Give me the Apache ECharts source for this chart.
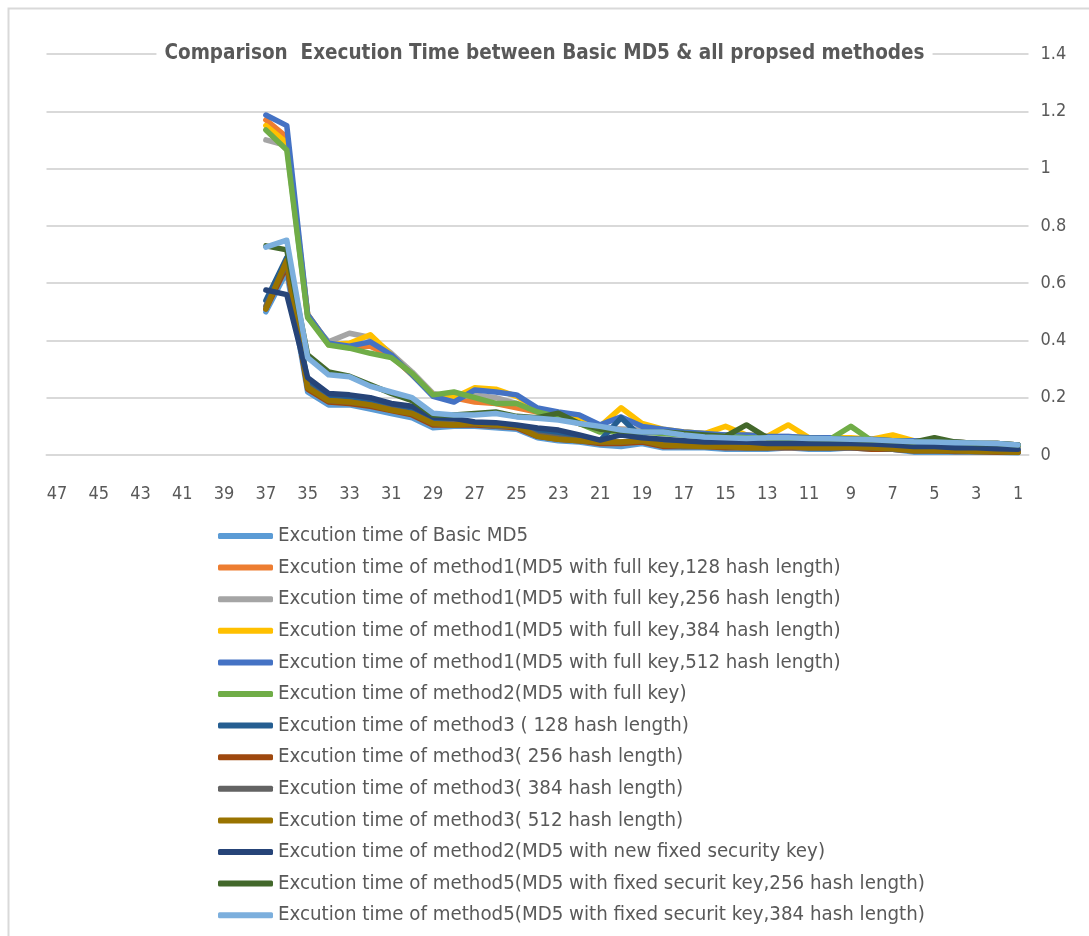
<!DOCTYPE html>
<html>
<head>
<meta charset="utf-8">
<script src="https://cdn.jsdelivr.net/npm/echarts@6/dist/echarts.min.js"></script>
<style>
html,body{margin:0;padding:0;background:#fff;}
#chart{width:1089px;height:936px;}
</style>
</head>
<body>
<div id="chart"></div>
<script>
// categories 1..47 (axis drawn in reverse order, 47 on the left)
const categories = ["1","2","3","4","5","6","7","8","9","10","11","12","13","14","15","16","17","18","19","20","21","22","23","24","25","26","27","28","29","30","31","32","33","34","35","36","37","38","39","40","41","42","43","44","45","46","47"];

// values for categories 1..37
const basicMD5 = [0.008,0.01,0.01,0.01,0.01,0.01,0.02,0.02,0.025,0.02,0.02,0.025,0.02,0.02,0.02,0.025,0.025,0.025,0.04,0.03,0.035,0.045,0.05,0.06,0.09,0.095,0.1,0.1,0.095,0.13,0.145,0.16,0.175,0.175,0.22,0.64,0.50];
const m1_128 = [0.03,0.035,0.04,0.04,0.045,0.045,0.05,0.05,0.055,0.055,0.06,0.06,0.06,0.065,0.07,0.07,0.075,0.08,0.085,0.09,0.09,0.11,0.13,0.15,0.165,0.18,0.185,0.2,0.21,0.28,0.345,0.38,0.38,0.39,0.49,1.11,1.17];
const m1_256 = [0.035,0.04,0.04,0.045,0.045,0.05,0.05,0.055,0.055,0.06,0.06,0.065,0.065,0.07,0.07,0.075,0.08,0.085,0.09,0.09,0.1,0.12,0.14,0.155,0.18,0.2,0.21,0.2,0.215,0.29,0.355,0.41,0.425,0.395,0.48,1.08,1.10];
const m1_384 = [0.035,0.04,0.04,0.045,0.045,0.05,0.07,0.055,0.06,0.06,0.06,0.105,0.065,0.07,0.1,0.075,0.08,0.09,0.11,0.165,0.1,0.13,0.145,0.16,0.205,0.23,0.235,0.2,0.21,0.28,0.35,0.42,0.39,0.385,0.49,1.09,1.15];
const m1_512 = [0.035,0.04,0.04,0.045,0.045,0.05,0.05,0.055,0.055,0.06,0.06,0.065,0.065,0.07,0.07,0.075,0.08,0.09,0.1,0.133,0.105,0.14,0.15,0.164,0.21,0.22,0.227,0.185,0.205,0.28,0.35,0.395,0.38,0.39,0.49,1.15,1.187];
const m2_full = [0.03,0.035,0.04,0.04,0.045,0.045,0.05,0.05,0.1,0.055,0.055,0.055,0.06,0.06,0.065,0.065,0.07,0.075,0.08,0.085,0.08,0.11,0.133,0.15,0.18,0.18,0.2,0.22,0.21,0.285,0.34,0.355,0.373,0.384,0.48,1.065,1.135];
const m3_128 = [0.015,0.02,0.02,0.02,0.025,0.025,0.03,0.03,0.035,0.035,0.035,0.035,0.035,0.04,0.04,0.04,0.045,0.05,0.06,0.13,0.05,0.065,0.075,0.085,0.1,0.105,0.11,0.12,0.12,0.155,0.165,0.185,0.2,0.2,0.25,0.69,0.54];
const m3_256 = [0.01,0.01,0.012,0.012,0.015,0.015,0.02,0.02,0.025,0.025,0.025,0.025,0.025,0.025,0.025,0.03,0.03,0.03,0.045,0.04,0.04,0.05,0.055,0.065,0.095,0.1,0.105,0.105,0.105,0.14,0.155,0.17,0.18,0.185,0.23,0.66,0.51];
const m3_384 = [0.01,0.012,0.012,0.015,0.015,0.015,0.02,0.025,0.025,0.025,0.025,0.03,0.025,0.025,0.03,0.03,0.03,0.035,0.05,0.045,0.045,0.05,0.06,0.07,0.1,0.1,0.11,0.11,0.11,0.145,0.16,0.175,0.185,0.19,0.24,0.67,0.52];
const m3_512 = [0.01,0.012,0.012,0.015,0.015,0.015,0.022,0.025,0.028,0.025,0.025,0.03,0.025,0.025,0.03,0.03,0.032,0.035,0.05,0.045,0.045,0.05,0.055,0.065,0.1,0.105,0.11,0.105,0.11,0.145,0.157,0.175,0.185,0.19,0.235,0.68,0.51];
const m2_newKey = [0.02,0.022,0.025,0.025,0.03,0.03,0.035,0.038,0.04,0.04,0.04,0.04,0.04,0.045,0.045,0.045,0.05,0.055,0.06,0.07,0.052,0.07,0.087,0.094,0.105,0.113,0.115,0.128,0.133,0.17,0.18,0.2,0.21,0.215,0.27,0.56,0.576];
const m5_256 = [0.035,0.04,0.04,0.045,0.06,0.045,0.05,0.052,0.055,0.057,0.058,0.06,0.06,0.105,0.065,0.07,0.075,0.08,0.08,0.085,0.09,0.11,0.146,0.13,0.135,0.15,0.145,0.14,0.14,0.19,0.215,0.245,0.275,0.29,0.35,0.716,0.73];
const m5_384 = [0.035,0.04,0.042,0.043,0.045,0.046,0.05,0.053,0.055,0.057,0.058,0.06,0.06,0.058,0.06,0.063,0.07,0.08,0.08,0.087,0.1,0.11,0.122,0.128,0.133,0.145,0.14,0.14,0.146,0.2,0.22,0.24,0.273,0.28,0.34,0.75,0.726];

const seriesNames = [
  "Excution time of Basic MD5",
  "Excution time of method1(MD5 with full key,128 hash length)",
  "Excution time of method1(MD5 with full key,256 hash length)",
  "Excution time of method1(MD5 with full key,384 hash length)",
  "Excution time of method1(MD5 with full key,512 hash length)",
  "Excution time of method2(MD5 with full key)",
  "Excution time of method3 ( 128 hash length)",
  "Excution time of method3( 256 hash length)",
  "Excution time of method3( 384 hash length)",
  "Excution time of method3( 512 hash length)",
  "Excution time of method2(MD5 with new fixed security key)",
  "Excution time of method5(MD5 with fixed securit key,256 hash length)",
  "Excution time of method5(MD5 with fixed securit key,384 hash length)"
];
const seriesData = [basicMD5, m1_128, m1_256, m1_384, m1_512, m2_full, m3_128, m3_256, m3_384, m3_512, m2_newKey, m5_256, m5_384];
const colors = ["#5B9BD5","#ED7D31","#A5A5A5","#FFC000","#4472C4","#70AD47","#255E91","#9E480E","#636363","#997300","#264478","#43682B","#7CAFDD"];

const FONT = "'Liberation Sans Narrow', 'DejaVu Sans Condensed', sans-serif";

const chart = echarts.init(document.getElementById('chart'), null, {renderer: 'canvas'});
chart.setOption({
  animation: false,
  backgroundColor: '#ffffff',
  color: colors,
  graphic: [{
    type: 'rect', left: 6, top: 6, z: -10,
    shape: {width: 1100, height: 960},
    style: {fill: 'none', stroke: '#d9d9d9', lineWidth: 2}
  }],
  title: {
    text: 'Comparison  Execution Time between Basic MD5 & all propsed methodes',
    left: 'center', top: 41,
    backgroundColor: '#ffffff',
    padding: [2, 8],
    textStyle: {fontFamily: FONT, fontSize: 20.5, fontWeight: 'bold', color: '#595959'}
  },
  grid: {left: 46.5, right: 60.5, top: 54, bottom: 481, containLabel: false},
  legend: {
    orient: 'vertical', left: 218, top: 525, padding: 0,
    itemWidth: 55, itemHeight: 6, itemGap: 9.6,
    icon: 'roundRect',
    textStyle: {fontFamily: FONT, fontSize: 20.3, color: '#595959', lineHeight: 22},
    data: seriesNames
  },
  xAxis: {
    type: 'category', data: categories, inverse: true, boundaryGap: true,
    axisLine: {lineStyle: {color: '#d9d9d9', width: 2}},
    axisTick: {show: false},
    axisLabel: {interval: 1, margin: 30, fontFamily: FONT, fontSize: 18, color: '#595959'},
    splitLine: {show: false}
  },
  yAxis: {
    type: 'value', position: 'right', min: 0, max: 1.4, interval: 0.2,
    axisLine: {show: false}, axisTick: {show: false},
    axisLabel: {margin: 12, fontFamily: FONT, fontSize: 18, color: '#595959'},
    splitLine: {lineStyle: {color: '#d9d9d9', width: 2}}
  },
  series: seriesNames.map((n, i) => ({
    name: n, type: 'line', data: seriesData[i],
    symbol: 'none', showSymbol: false,
    lineStyle: {width: 5.5, color: colors[i], join: 'round', cap: 'round'},
    itemStyle: {color: colors[i]}
  }))
});
</script>
</body>
</html>
